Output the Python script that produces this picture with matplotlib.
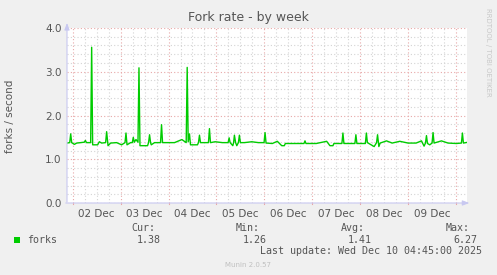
import numpy as np
import matplotlib
matplotlib.use("Agg")
import matplotlib.pyplot as plt
from matplotlib.patches import Rectangle

# hours since 02 Dec 00:00, and forks/second
hours = [-2.85, -1.5, -1.0, -0.5, 0.85, 2.0, 4.0, 5.8, 6.35, 6.9, 9.0, 9.5, 10.0, 12.5, 13.35, 14.5,
         16.5, 17.0, 17.7, 19.0, 22.0, 24.5, 26.2, 26.7, 27.2, 29.0, 29.85, 30.35, 30.85, 31.7,
         32.7, 33.2, 33.7, 35.0, 37.5, 38.0, 38.5, 39.0, 39.35, 41.0, 44.0, 44.5, 45.0, 48.0,
         51.0, 54.7, 56.85, 57.35, 57.85, 58.5, 59.0, 62.5, 63.0, 63.5, 64.0, 66.0, 68.0, 68.5,
         69.0, 71.35, 75.0, 77.85, 78.35, 78.85, 80.2, 80.6, 81.0, 81.6, 82.2, 83.0, 83.5, 84.0,
         86.0, 89.7, 93.0, 95.85, 96.35, 96.85, 100.0, 102.5, 104.7, 106.0, 106.5, 110.0, 115.85,
         116.35, 116.85, 122.0, 127.2, 128.85, 130.35, 130.85, 134.85, 135.35, 135.85, 141.35,
         141.85, 142.35, 146.6, 147.1, 147.6, 151.0, 152.2, 152.7, 153.35, 154.0, 157.2, 160.0,
         163.85, 168.0, 172.0, 174.7, 176.0, 176.7, 177.2, 177.7, 178.85, 180.0, 180.5, 181.0,
         184.7, 188.0, 192.2, 194.7, 195.2, 195.7, 197.5]
forks = [1.37, 1.38, 1.58, 1.38, 1.34, 1.37, 1.38, 1.39, 1.43, 1.38, 1.38, 3.56, 1.33, 1.33, 1.40, 1.37,
         1.38, 1.63, 1.31, 1.37, 1.38, 1.33, 1.38, 1.60, 1.33, 1.38, 1.38, 1.50, 1.39, 1.45,
         1.39, 3.09, 1.31, 1.31, 1.31, 1.38, 1.56, 1.38, 1.33, 1.38, 1.38, 1.79, 1.38, 1.38,
         1.38, 1.45, 1.38, 3.10, 1.40, 1.58, 1.33, 1.33, 1.38, 1.55, 1.38, 1.38, 1.38, 1.70,
         1.38, 1.40, 1.38, 1.38, 1.49, 1.38, 1.31, 1.38, 1.55, 1.38, 1.31, 1.38, 1.55, 1.38,
         1.38, 1.40, 1.38, 1.38, 1.61, 1.37, 1.36, 1.41, 1.31, 1.31, 1.36, 1.36, 1.36,
         1.42, 1.36, 1.36, 1.41, 1.31, 1.31, 1.36, 1.36, 1.60, 1.36, 1.36,
         1.56, 1.36, 1.36, 1.60, 1.38, 1.29, 1.38, 1.56, 1.29, 1.37, 1.42, 1.37,
         1.41, 1.37, 1.37, 1.42, 1.30, 1.37, 1.54, 1.36, 1.33, 1.37, 1.61, 1.37,
         1.42, 1.37, 1.36, 1.37, 1.60, 1.37, 1.385]

day_labels = ["02 Dec", "03 Dec", "04 Dec", "05 Dec", "06 Dec", "07 Dec", "08 Dec", "09 Dec"]
y_ticks = [0.0, 1.0, 2.0, 3.0, 4.0]
stats_names = ["Cur:", "Min:", "Avg:", "Max:"]
stats_values = ["1.38", "1.26", "1.41", "6.27"]

W, H = 497, 275
fig = plt.figure(figsize=(W / 100, H / 100), dpi=100, facecolor="#f0f0f0")
ax = fig.add_axes([67 / W, 1 - 203 / H, 400 / W, 175 / H])
ax.set_facecolor("white")

txt = "#555555"
major = "#e8a8a8"
minor = "#d4d4d4"

ax.set_xlim(-2.85, 197.5)
ax.set_ylim(0, 4)

# grid
for h in range(0, 198, 6):
    if h % 24:
        ax.axvline(h, color=minor, lw=0.8, ls=(0, (1, 2)), zorder=1)
for h in range(0, 198, 24):
    ax.axvline(h, color=major, lw=0.8, ls=(0, (1, 2)), zorder=1)
for v in np.arange(0.2, 4.0, 0.2):
    if abs(v - round(v)) > 1e-6:
        ax.axhline(v, color=minor, lw=0.8, ls=(0, (1, 2)), zorder=1)
for v in y_ticks:
    ax.axhline(v, color=major, lw=0.8, ls=(0, (1, 2)), zorder=1)

ax.plot(hours, forks, color="#00cc00", lw=1.0, zorder=3)

for s in ax.spines.values():
    s.set_visible(False)
ax.set_xticks([12 + 24 * i for i in range(len(day_labels))])
ax.set_xticklabels(day_labels)
ax.set_yticks(y_ticks)
ax.set_yticklabels(["%.1f" % v for v in y_ticks])
ax.tick_params(length=0, labelsize=7.5, colors=txt, pad=4)

# axis arrows
arrow_c = "#c8c8f0"
ax.annotate("", xy=(0, 1.045), xytext=(0, -0.01), xycoords="axes fraction",
            arrowprops=dict(arrowstyle="-|>,head_width=0.15,head_length=0.4", color=arrow_c, lw=0.8))
ax.annotate("", xy=(1.013, 0), xytext=(-0.01, 0), xycoords="axes fraction",
            arrowprops=dict(arrowstyle="-|>,head_width=0.15,head_length=0.4", color=arrow_c, lw=0.8))
for x in range(0, 198, 24):
    ax.plot([x, x], [0, -0.02], color=major, lw=0.8, clip_on=False)

fig.text(248 / W, 1 - 18 / H, "Fork rate - by week", ha="center", va="center", fontsize=9, color=txt)
fig.text(10 / W, 1 - 116 / H, "forks / second", rotation=90, ha="center", va="center", fontsize=7.5, color=txt)
fig.text(488 / W, 1 - 52 / H, "RRDTOOL / TOBI OETIKER", rotation=270, ha="center", va="center",
         fontsize=5, color="#c8c8c8")

# legend
fig.patches.append(Rectangle((14 / W, 1 - 243 / H), 6 / W, 6 / H, transform=fig.transFigure,
                             facecolor="#00cc00", edgecolor="none"))
mono = "DejaVu Sans Mono"
fig.text(27 / W, 1 - 240 / H, "forks", ha="left", va="center", fontsize=7.2, color=txt, family=mono)
col_right = [155, 260, 365, 470]
val_right = [161, 267, 372, 477]
for name, val, xr, vr in zip(stats_names, stats_values, col_right, val_right):
    fig.text(xr / W, 1 - 228 / H, name, ha="right", va="center", fontsize=7.2, color=txt, family=mono)
    fig.text(vr / W, 1 - 240 / H, val, ha="right", va="center", fontsize=7.2, color=txt, family=mono)
fig.text(482 / W, 1 - 251 / H, "Last update: Wed Dec 10 04:45:00 2025", ha="right", va="center",
         fontsize=7.2, color=txt, family=mono)
fig.text(248 / W, 1 - 265 / H, "Munin 2.0.57", ha="center", va="center", fontsize=5, color="#c0c0c0")

fig.savefig("out.png", dpi=100, facecolor=fig.get_facecolor())
